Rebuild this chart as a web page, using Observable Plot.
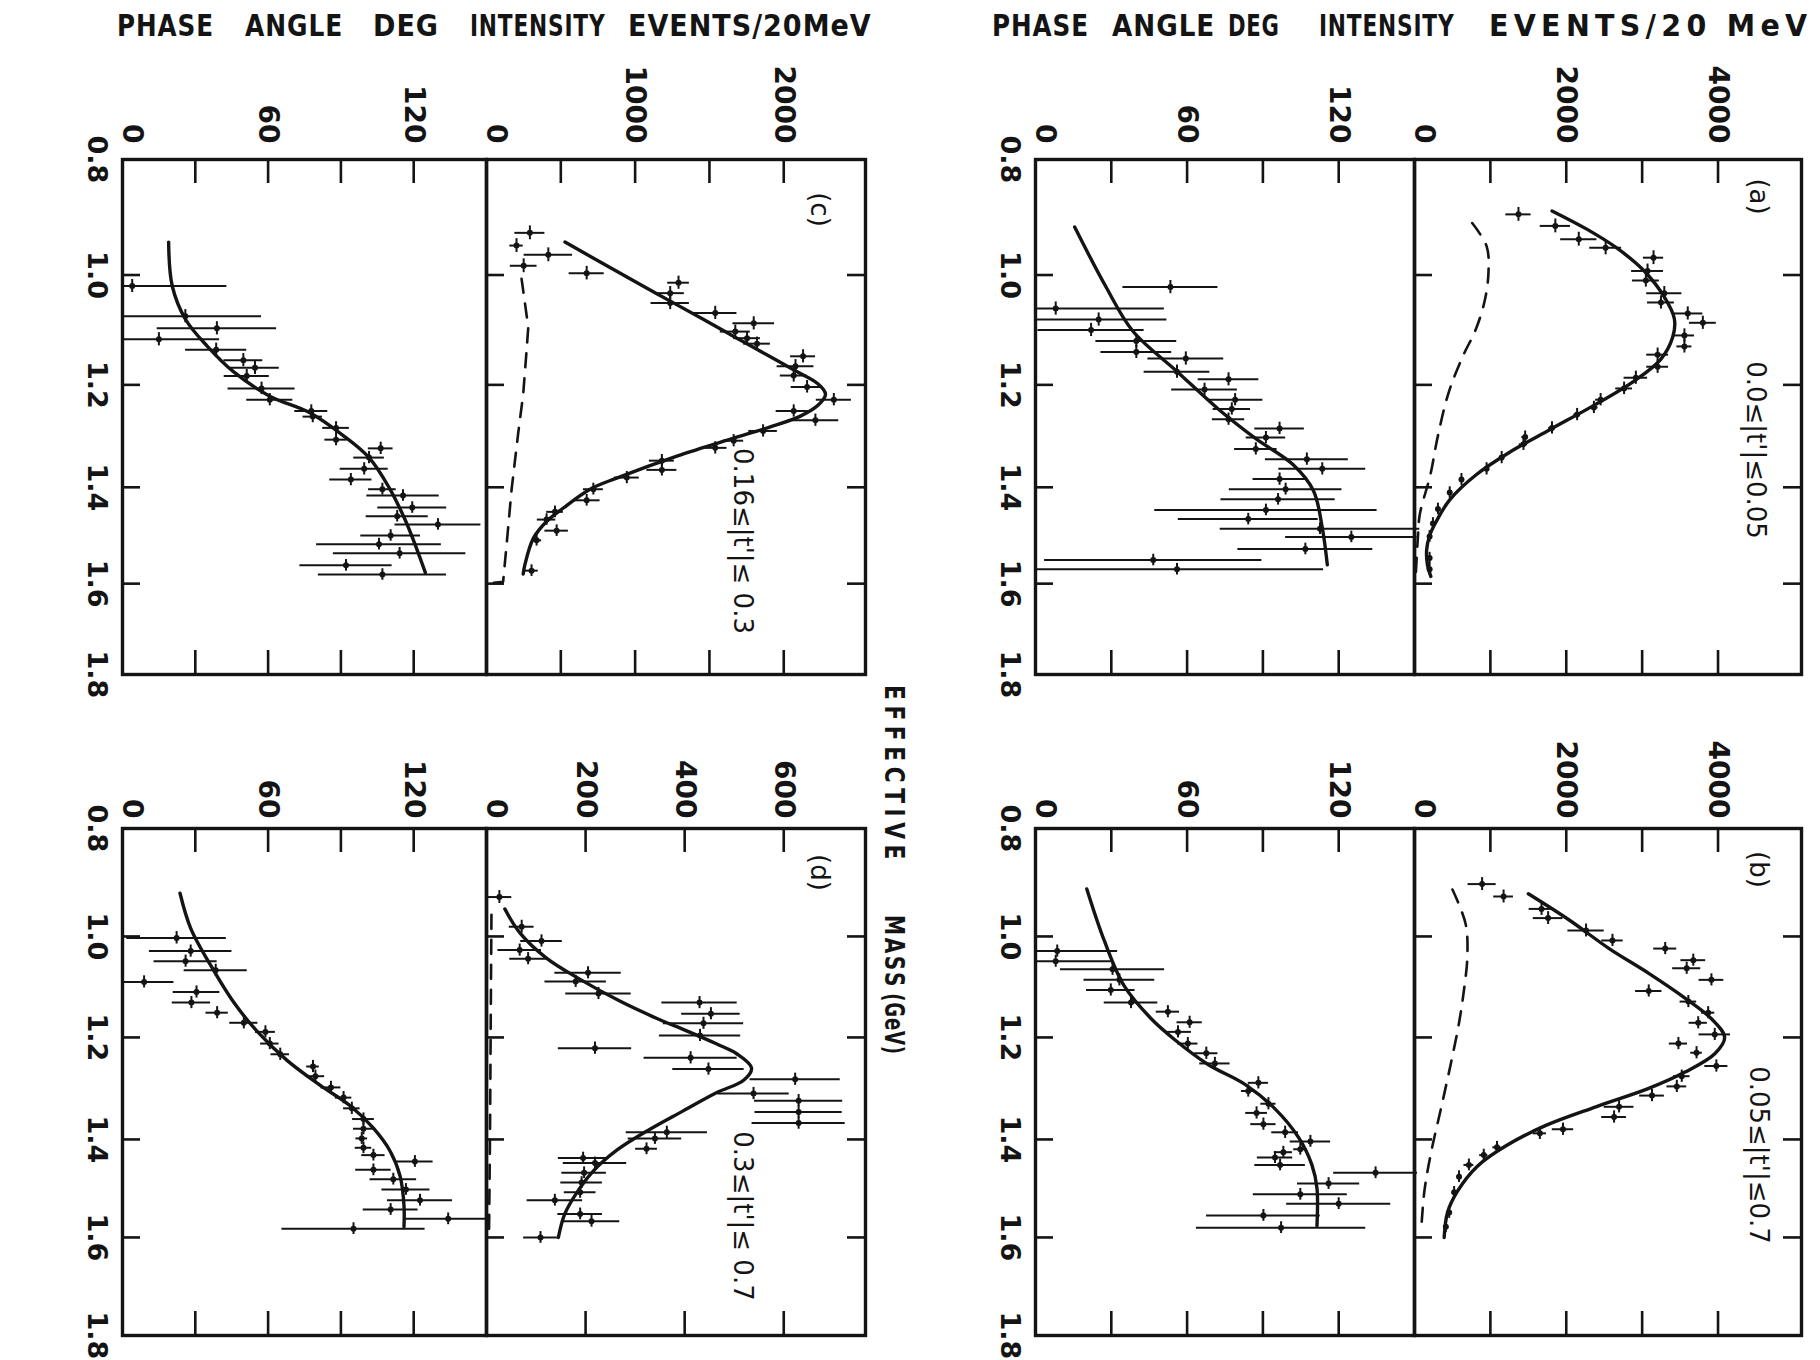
<!DOCTYPE html>
<html>
<head>
<meta charset="utf-8">
<script src="https://cdn.jsdelivr.net/npm/d3@7"></script>
<script src="https://cdn.jsdelivr.net/npm/@observablehq/plot@0.6"></script>
<style>
  html, body { margin: 0; padding: 0; background: #fff; }
  #fig { position: relative; width: 1820px; height: 1360px; overflow: hidden; background: #fff; }
  #fig svg { position: absolute; left: 0; top: 0; background: transparent !important; font-family: "DejaVu Sans", sans-serif; }
  .ttl { position: absolute; left: 0; top: 0; white-space: nowrap; line-height: 1; color: #141414;
         font-family: "DejaVu Sans Condensed", "DejaVu Sans", sans-serif; font-stretch: condensed; font-weight: bold; }
</style>
</head>
<body>
<div id="fig"></div>
<script>
// ---------------- data ----------------
const massStops = [0.8, 1.0, 1.2, 1.4, 1.6, 1.8];
const massInner = [1.0, 1.2, 1.4, 1.6];
const phaseTicks = [30, 60, 90, 120];
const phaseLabels = [0, 60, 120];
const abTicks = [1000, 2000, 3000, 4000];
const abLabels = [0, 2000, 4000];
const cTicks = [500, 1000, 1500, 2000];
const cLabels = [0, 1000, 2000];
const dTicks = [200, 400, 600];
const dLabels = [0, 200, 400, 600];
const panelTags = ["(a)", "(b)", "(c)", "(d)"];
const tRanges = ["0.0≤|t'|≤0.05", "0.05≤|t'|≤0.7", "0.16≤|t'|≤ 0.3", "0.3≤|t'|≤ 0.7"];
const titleWords = ["PHASE", "ANGLE", "DEG", "INTENSITY", "EVENTS/20MeV"];
const titleWordsRight = ["PHASE", "ANGLE", "DEG", "INTENSITY", "EVENTS/20 MeV"];
const xLabelWords = ["EFFECTIVE", "MASS", "(GeV)"];

// points: [mass GeV, value, error half-width]; curves: [mass, value]
// ---- panel (a) 0.0<|t'|<0.05
const aPhasePts = [[1.022,53.4,18.8],[1.061,8,43],[1.081,25,27],[1.10,22,21],[1.12,39.9,16],[1.14,39.9,14],[1.152,59.5,15],[1.176,56,13],[1.19,76.4,12],[1.209,66.9,13],[1.229,79,11],[1.247,77.7,7.4],[1.267,76.4,6.4],[1.285,96.6,9.8],[1.303,91.2,7.8],[1.325,87.2,8.4],[1.345,107.4,16.4],[1.364,113.5,17.2],[1.384,96.6,10.5],[1.404,99,22.3],[1.425,96,22.6],[1.447,91.2,44],[1.466,84.2,27.7],[1.486,112.6,39.5],[1.503,125,26],[1.528,106.8,26.7],[1.551,46.6,43],[1.57,56,58]];
const aPhaseFit = [[0.917,15.5],[1.02,27.7],[1.102,38.5],[1.176,56.1],[1.247,72.3],[1.305,87.2],[1.356,102],[1.407,110],[1.484,113.5],[1.561,115.5]];
const aIntPts = [[0.895,1370,166],[0.915,1856,199],[0.938,2165,239],[0.953,2519,210],[0.97,3150,133],[0.993,3071,210],[1.01,3049,177],[1.033,3292,232],[1.05,3248,177],[1.07,3601,199],[1.087,3800,177],[1.11,3557,133],[1.13,3557,99],[1.145,3204,144],[1.167,3204,144],[1.187,2917,155],[1.207,2762,110],[1.229,2453,66],[1.244,2364,55],[1.258,2143,44],[1.284,1812,44],[1.302,1458,44],[1.316,1436,55],[1.342,1149,33],[1.364,950,22],[1.385,619,22],[1.411,464,22],[1.445,309,22],[1.475,243,15],[1.502,199,15],[1.547,199,15],[1.57,199,15]];
const aIntFit = [[0.889,1812],[0.921,2276],[0.954,2674],[0.993,3027],[1.04,3292],[1.08,3425],[1.113,3403],[1.153,3248],[1.193,2894],[1.24,2364],[1.287,1790],[1.331,1259],[1.375,817],[1.426,464],[1.47,290],[1.50,200],[1.53,160],[1.56,170],[1.585,215]];
const aIntBg = [[0.91,760],[0.95,950],[0.995,975],[1.047,925],[1.10,805],[1.147,640],[1.215,450],[1.302,305],[1.375,210],[1.456,70],[1.50,46],[1.59,14]];

// ---- panel (b) 0.05<|t'|<0.7
const bPhasePts = [[1.029,8.6,23.9],[1.049,8,22],[1.065,30.5,20.6],[1.086,33.2,14],[1.106,29.8,9.6],[1.131,37.8,10.6],[1.149,52.4,4.6],[1.17,61,5],[1.189,56.4,5.3],[1.212,60.3,4],[1.231,67.6,4.6],[1.251,71,6],[1.289,88.2,4],[1.305,84.2,2.7],[1.33,92.2,3],[1.348,87.5,4.3],[1.37,90.2,5],[1.386,98.8,5.3],[1.404,108.8,8],[1.42,104.8,2.6],[1.426,98.1,3.6],[1.437,94.8,7],[1.452,96.8,10],[1.468,134.6,16.6],[1.49,116,12.3],[1.512,104.8,18.6],[1.531,120,20.6],[1.555,90.2,22.5],[1.58,97.2,33.5]];
const bPhaseFit = [[0.912,20.3],[1.008,27.2],[1.098,35.1],[1.163,45.8],[1.204,55],[1.253,68.3],[1.292,82.9],[1.34,94.8],[1.396,104.1],[1.452,109.4],[1.5,111.4],[1.576,111.4]];
const bIntPts = [[0.903,891,185],[0.926,1174,130],[0.949,1674,163],[0.966,1761,196],[0.989,2261,239],[1.008,2609,141],[1.024,3304,152],[1.047,3674,163],[1.063,3587,185],[1.086,3913,163],[1.108,3087,174],[1.129,3609,109],[1.151,3870,87],[1.171,3739,120],[1.194,3957,207],[1.212,3478,120],[1.23,3717,76],[1.256,3978,152],[1.276,3522,109],[1.296,3457,130],[1.314,3130,163],[1.336,2696,196],[1.356,2630,163],[1.38,1957,141],[1.388,1652,87],[1.416,1087,54],[1.432,913,54],[1.452,717,65],[1.476,587,20],[1.508,522,20],[1.549,457,20],[1.578,413,20]];
const bIntFit = [[0.921,1500],[0.97,2043],[1.024,2565],[1.073,3087],[1.122,3565],[1.163,3913],[1.2,4087],[1.232,3957],[1.268,3565],[1.30,3087],[1.336,2391],[1.372,1739],[1.412,1217],[1.455,826],[1.506,565],[1.549,435],[1.6,391]];
const bIntBg = [[0.913,500],[0.977,674],[1.041,696],[1.106,652],[1.171,587],[1.252,478],[1.34,348],[1.428,217],[1.506,130],[1.588,87]];

// ---- panel (c) 0.16<|t'|<0.3
const cPhasePts = [[1.02,4,39],[1.075,25.9,31.4],[1.097,38.9,24.6],[1.117,15,25],[1.136,38.6,12.6],[1.155,49.8,8],[1.169,54.6,10],[1.184,51.2,9.3],[1.207,57.3,13.8],[1.229,60.7,9.5],[1.251,77.8,6.8],[1.262,78.4,4],[1.284,88,5.5],[1.307,88,4.6],[1.324,106.4,5.1],[1.342,101.6,6.3],[1.364,99.6,9.9],[1.385,94.1,8.7],[1.404,107.1,5.7],[1.417,115.6,14.9],[1.442,119.4,14.2],[1.46,113.2,12.8],[1.477,130,17.7],[1.5,110.5,12.3],[1.518,105.7,25.7],[1.537,114.2,27.3],[1.562,92.1,19],[1.581,107.1,26.4]];
const cPhaseFit = [[0.943,19],[1.02,20.5],[1.081,26],[1.129,34.8],[1.176,45.7],[1.222,60.7],[1.254,77],[1.298,90.7],[1.342,101.6],[1.40,109.8],[1.469,116.6],[1.538,122],[1.577,124.8]];
const cIntPts = [[0.927,292,101],[0.949,202,45],[0.965,416,163],[0.984,250,90],[0.997,674,118],[1.014,1292,73],[1.033,1236,95],[1.051,1236,129],[1.069,1539,146],[1.088,1798,140],[1.103,1674,101],[1.115,1753,90],[1.125,1820,90],[1.148,2130,84],[1.166,2079,124],[1.183,2067,90],[1.204,2157,107],[1.229,2337,118],[1.251,2067,118],[1.269,2213,157],[1.29,1861,96],[1.309,1663,67],[1.323,1539,79],[1.348,1180,84],[1.366,1180,101],[1.381,944,84],[1.404,719,67],[1.427,674,90],[1.451,461,56],[1.467,404,62],[1.49,472,79],[1.51,337,34],[1.573,303,45]];
const cIntFit = [[0.943,528],[0.987,831],[1.034,1146],[1.081,1461],[1.115,1685],[1.149,1910],[1.176,2090],[1.197,2225],[1.218,2281],[1.240,2230],[1.261,2112],[1.282,1910],[1.304,1663],[1.339,1281],[1.382,876],[1.404,697],[1.443,517],[1.471,404],[1.506,315],[1.561,258],[1.58,247]];
const cIntBg = [[1.007,236],[1.095,281],[1.136,270],[1.218,247],[1.295,213],[1.404,169],[1.52,135],[1.596,112],[1.6,0]];

// ---- panel (d) 0.3<|t'|<0.7
const dPhasePts = [[1.003,22.3,20.5],[1.029,28.1,17],[1.049,26,13],[1.067,38.4,13],[1.09,8.9,12.3],[1.11,30.5,9.6],[1.131,28.4,7.9],[1.151,39,4.6],[1.171,50,5.8],[1.189,58.9,4.1],[1.212,60.7,3.8],[1.233,65,3.8],[1.257,78.5,2.6],[1.276,79.5,3.8],[1.298,85.9,4.1],[1.318,91.1,3.4],[1.339,94.5,3.4],[1.36,99.3,4.5],[1.379,99.3,4.1],[1.398,98.6,2.4],[1.417,99.3,3.4],[1.432,103.4,4.8],[1.445,120.5,7.5],[1.462,103.4,7.3],[1.481,111.6,9.6],[1.502,116.8,9.9],[1.524,122.6,13.4],[1.543,110.5,11.3],[1.562,134.2,17.5],[1.582,95.2,29.5]];
const dPhaseFit = [[0.92,23.7],[0.985,28.1],[1.057,36.3],[1.131,45.9],[1.188,55.5],[1.245,67.8],[1.294,81.5],[1.334,93.8],[1.378,103.4],[1.424,110.3],[1.475,114.4],[1.535,116],[1.578,116]];
const dIntPts = [[0.927,26,25],[0.982,71,25],[1.009,111,42],[1.027,67,44],[1.044,84,37],[1.072,205,67],[1.089,180,62],[1.113,226,66],[1.131,430,76],[1.153,453,59],[1.172,438,81],[1.196,431,82],[1.221,219,74],[1.24,412,94],[1.262,448,72],[1.282,623,91],[1.31,539,72],[1.324,630,89],[1.346,630,88],[1.368,630,94],[1.386,364,82],[1.398,340,54],[1.419,323,22],[1.438,195,50],[1.448,219,64],[1.468,197,45],[1.488,192,42],[1.508,189,32],[1.524,138,56],[1.552,189,45],[1.567,212,57],[1.60,109,34]];
const dIntFit = [[0.949,37],[0.993,67],[1.043,121],[1.085,189],[1.128,269],[1.162,343],[1.187,404],[1.213,465],[1.232,505],[1.26,535],[1.284,519],[1.308,465],[1.344,397],[1.38,330],[1.422,263],[1.465,215],[1.509,182],[1.552,158],[1.6,145]];
const dIntBg = [[0.96,10],[1.1,9],[1.25,8],[1.4,7],[1.5,6],[1.6,5]];

// ---------------- layout ----------------
const ink = "#141414";
const FONT = "DejaVu Sans, sans-serif";
const FW = 1820, FH = 1360;
const COLS = {left: {L: 122, S: 486, R: 865}, right: {L: 1035, S: 1414, R: 1801}};
// the printed mass axes are not evenly spaced in the reproduced figure: map each tick to where it is drawn
const ROWS = {
  top: {T: 159, B: 674, drawn: [0.8, 1.0243, 1.2376, 1.4365, 1.6236, 1.8], labelDy: -16},
  bottom: {T: 828, B: 1335, drawn: [0.8, 1.0129, 1.2121, 1.4133, 1.6066, 1.8], labelDy: -10}
};
const fig = document.getElementById("fig");

function sub({L, R, row, xDomain, ticks, labels, pts, fit, bg, bgCurve = "catmull-rom", leftTicks, rightTicks, massLabels, tag, trange}) {
  const T = row.T, B = row.B;
  const W = R - L, H = B - T;
  const warp = d3.scaleLinear(massStops, row.drawn);
  const labelStyle = {frameAnchor: "top", rotate: 90, textAnchor: "end", lineAnchor: "middle", dy: row.labelDy,
    fontSize: 28, fontWeight: "bold", fontFamily: FONT, fill: ink};
  const marks = [
    Plot.frame({stroke: ink, strokeWidth: 3.4}),
    Plot.ruleX(ticks, {x: d => d, insetBottom: H - 24, stroke: ink, strokeWidth: 2.6}),
    Plot.ruleX(ticks, {x: d => d, insetTop: H - 24, stroke: ink, strokeWidth: 2.6}),
    Plot.text(labels.filter(d => d !== 0), {x: d => d, text: d => String(d), ...labelStyle}),
    Plot.text(labels.filter(d => d === 0), {x: d => d, text: d => String(d), dx: 9, ...labelStyle})
  ];
  if (leftTicks) marks.push(Plot.ruleY(massInner, {y: d => d, insetRight: W - 18, stroke: ink, strokeWidth: 2.6}));
  if (rightTicks) marks.push(Plot.ruleY(massInner, {y: d => d, insetLeft: W - 18, stroke: ink, strokeWidth: 2.6}));
  if (massLabels) marks.push(Plot.text(massStops, {y: d => d, text: d => d.toFixed(1), frameAnchor: "left", rotate: 90,
      textAnchor: "middle", lineAnchor: "top", dx: -15, fontSize: 27, fontWeight: "bold", fontFamily: FONT, fill: ink}));
  if (bg) marks.push(Plot.line(bg, {x: d => d[1], y: d => d[0], curve: bgCurve, stroke: ink, strokeWidth: 2.6, strokeDasharray: "14,11"}));
  marks.push(
    Plot.ruleY(pts, {y: d => d[0], x1: d => Math.max(0, d[1] - d[2]), x2: d => d[1] + d[2], stroke: ink, strokeWidth: 2}),
    Plot.ruleX(pts, {x: d => d[1], y1: d => d[0] - 0.012, y2: d => d[0] + 0.012, stroke: ink, strokeWidth: 2}),
    Plot.dot(pts, {x: d => d[1], y: d => d[0], r: 3, fill: ink}),
    Plot.line(fit, {x: d => d[1], y: d => d[0], curve: "catmull-rom", stroke: ink, strokeWidth: 3.4})
  );
  if (tag) {
    marks.push(Plot.text([tag.text], {text: d => d, frameAnchor: "top-right", dx: tag.dx, dy: tag.dy, rotate: 90,
      textAnchor: "middle", lineAnchor: "middle", fontSize: 26, fontFamily: FONT, fill: ink}));
    marks.push(Plot.text([trange.text], {text: d => d, frameAnchor: "right", dx: trange.dx, dy: trange.dy, rotate: 90,
      textAnchor: "middle", lineAnchor: "middle", fontSize: 26, fontFamily: FONT, fill: ink}));
  }
  const svg = Plot.plot({
    width: FW, height: FH,
    marginLeft: L, marginRight: FW - R, marginTop: T, marginBottom: FH - B,
    x: {domain: xDomain, axis: null},
    y: {domain: [0.8, 1.8], reverse: true, transform: warp, axis: null},
    style: {background: "transparent", overflow: "visible"},
    marks
  });
  fig.appendChild(svg);
}

function panel({col, row, intDomain, intTicks, intLabels, phasePts, phaseFit, intPts, intFit, intBg, bgCurve, tag, trange}) {
  sub({L: col.L, R: col.S, row, xDomain: [0, 150], ticks: phaseTicks, labels: phaseLabels,
       pts: phasePts, fit: phaseFit, leftTicks: true, massLabels: true});
  sub({L: col.S, R: col.R, row, xDomain: intDomain, ticks: intTicks, labels: intLabels,
       pts: intPts, fit: intFit, bg: intBg, bgCurve, leftTicks: true, rightTicks: true, tag, trange});
}

panel({col: COLS.right, row: ROWS.top, intDomain: [0, 5100], intTicks: abTicks, intLabels: abLabels,
  phasePts: aPhasePts, phaseFit: aPhaseFit, intPts: aIntPts, intFit: aIntFit, intBg: aIntBg,
  tag: {text: panelTags[0], dx: -43, dy: 37}, trange: {text: tRanges[0], dx: -46, dy: 33}});
panel({col: COLS.right, row: ROWS.bottom, intDomain: [0, 5100], intTicks: abTicks, intLabels: abLabels,
  phasePts: bPhasePts, phaseFit: bPhaseFit, intPts: bIntPts, intFit: bIntFit, intBg: bIntBg,
  tag: {text: panelTags[1], dx: -43, dy: 41}, trange: {text: tRanges[1], dx: -43, dy: 73}});
panel({col: COLS.left, row: ROWS.top, intDomain: [0, 2550], intTicks: cTicks, intLabels: cLabels,
  phasePts: cPhasePts, phaseFit: cPhaseFit, intPts: cIntPts, intFit: cIntFit, intBg: cIntBg, bgCurve: "linear",
  tag: {text: panelTags[2], dx: -46, dy: 50}, trange: {text: tRanges[2], dx: -123, dy: 124}});
panel({col: COLS.left, row: ROWS.bottom, intDomain: [0, 765], intTicks: dTicks, intLabels: dLabels,
  phasePts: dPhasePts, phaseFit: dPhaseFit, intPts: dIntPts, intFit: dIntFit, intBg: dIntBg, bgCurve: "linear",
  tag: {text: panelTags[3], dx: -46, dy: 44}, trange: {text: tRanges[3], dx: -123, dy: 134}});

// ---------------- titles (HTML text above the plots) ----------------
function word(text, x0, x1, top, size, spacing) {
  const s = document.createElement("span");
  s.className = "ttl";
  s.textContent = text;
  s.style.fontSize = size + "px";
  s.style.letterSpacing = spacing + "px";
  fig.appendChild(s);
  const w = s.offsetWidth - spacing;
  s.style.transformOrigin = "0 0";
  s.style.transform = `translate(${x0}px, ${top}px) scaleX(${(x1 - x0) / w})`;
}
const leftSpans = [[117, 213], [245, 342], [373, 438], [470, 605], [628, 871]];
const rightSpans = [[992, 1088], [1112, 1214], [1228, 1279], [1319, 1454], [1489, 1807]];
titleWords.forEach((t, i) => word(t, leftSpans[i][0], leftSpans[i][1], 11, 30, 1));
titleWordsRight.forEach((t, i) => word(t, rightSpans[i][0], rightSpans[i][1], 11, 30, i === 4 ? 5 : 1));

function vword(text, cx, cy, len, size, spacing) {
  const s = document.createElement("span");
  s.className = "ttl";
  s.textContent = text;
  s.style.fontSize = size + "px";
  s.style.letterSpacing = spacing + "px";
  fig.appendChild(s);
  const w = s.offsetWidth;
  s.style.transformOrigin = "0 0";
  s.style.transform = `translate(${cx}px, ${cy}px) rotate(90deg) scaleX(${len / w}) translate(-50%, -50%)`;
}
const vCenters = [[894, 775, 180, 6], [894, 952, 74, 3], [894, 1024, 62, 1]];
xLabelWords.forEach((t, i) => vword(t, vCenters[i][0], vCenters[i][1], vCenters[i][2], 26, vCenters[i][3]));
</script>
</body>
</html>
